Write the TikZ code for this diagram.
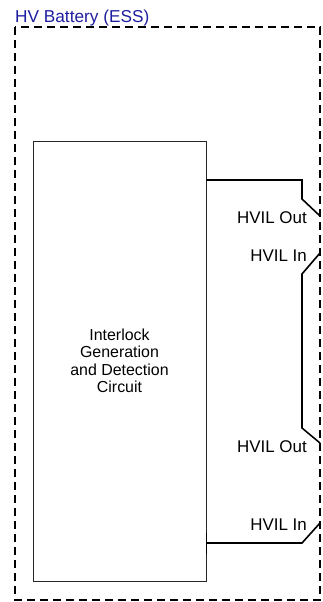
\documentclass[tikz,border=0pt]{standalone}
\usepackage{fontspec}
\setmainfont{Liberation Sans}
\usetikzlibrary{positioning,calc}
\definecolor{essblue}{RGB}{30,30,160}
\tikzset{
  essframe/.style={draw, line width=1.9bp, dash pattern=on 8bp off 5bp},
  circuit/.style={draw=black!85, line width=0.8pt, minimum width=173bp, minimum height=440bp,
                  inner sep=0pt, align=center, font=\fontsize{16}{17.5}\selectfont},
  wire/.style={line width=1.6bp, line join=miter},
  pinlbl/.style={font=\fontsize{17}{18}\selectfont, inner sep=0pt},
  ttl/.style={font=\fontsize{17.3}{18}\selectfont, text=essblue, inner sep=0pt, anchor=base west}
}

\begin{document}
\begin{tikzpicture}[x=1bp, y=-1bp, node distance=13bp]
        \useasboundingbox (0,0) rectangle (322,602);
        % battery enclosure
        \draw[essframe] (15,27) rectangle (320,600);
        \node[ttl] (title) at (15,23) {HV Battery (ESS)};
        % interlock circuit
        \node[circuit] (circ) at (119.5,361) {Interlock\\Generation\\and Detection\\Circuit};
        % connector pins on the enclosure
        \coordinate (outA) at (320,216);
        \coordinate (inA) at (320,253);
        \coordinate (outB) at (320,443);
        \coordinate (inB) at (320,523);
        \node[pinlbl, left=of outA, yshift=-2bp] (loutA) {HVIL Out};
        \node[pinlbl, left=of inA, yshift=-3bp] (linA) {HVIL In};
        \node[pinlbl, left=of outB, yshift=-4bp] (loutB) {HVIL Out};
        \node[pinlbl, left=of inB, yshift=-2bp] (linB) {HVIL In};
        % wiring
        \coordinate (tieA) at (circ.east |- 0,180);
        \coordinate (tieB) at (circ.east |- 0,543);
        \draw[wire] (tieA) -- (302,180) -- (302,199) -- (outA);
        \draw[wire] (inA) -- (302,274) -- (302,428) -- (outB);
        \draw[wire] (inB) -- (302,543) -- (tieB);
        \draw[wire] ($(tieB)+(0,-10)$) -- ($(tieB)+(0,11)$);
      \end{tikzpicture}
\end{document}
